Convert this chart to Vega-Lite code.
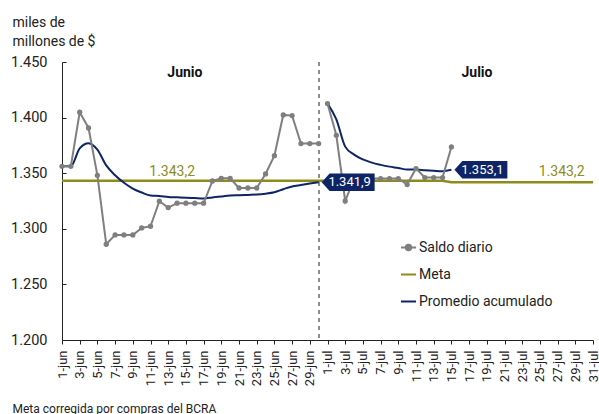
{
  "$schema": "https://vega.github.io/schema/vega-lite/v6.json",
  "width": 531,
  "height": 278,
  "autosize": "none",
  "padding": {"left": 62, "top": 62, "right": 6, "bottom": 74},
  "background": "white",
  "config": {
    "view": {"stroke": null},
    "font": "Roboto",
    "text": {"font": "Roboto"}
  },
  "datasets": {
    "diario": [
      {"d": "1-jun", "m": "jun", "saldo": 1356.2, "prom": 1356.2, "meta": 1343.2},
      {"d": "2-jun", "m": "jun", "saldo": 1356.2, "prom": 1356.2, "meta": 1343.2},
      {"d": "3-jun", "m": "jun", "saldo": 1404.8, "prom": 1372.4, "meta": 1343.2},
      {"d": "4-jun", "m": "jun", "saldo": 1390.7, "prom": 1377.0, "meta": 1343.2},
      {"d": "5-jun", "m": "jun", "saldo": 1348.1, "prom": 1371.2, "meta": 1343.2},
      {"d": "6-jun", "m": "jun", "saldo": 1286.1, "prom": 1357.0, "meta": 1343.2},
      {"d": "7-jun", "m": "jun", "saldo": 1294.5, "prom": 1348.1, "meta": 1343.2},
      {"d": "8-jun", "m": "jun", "saldo": 1294.5, "prom": 1341.4, "meta": 1343.2},
      {"d": "9-jun", "m": "jun", "saldo": 1294.5, "prom": 1336.2, "meta": 1343.2},
      {"d": "10-jun", "m": "jun", "saldo": 1300.8, "prom": 1332.6, "meta": 1343.2},
      {"d": "11-jun", "m": "jun", "saldo": 1302.3, "prom": 1329.9, "meta": 1343.2},
      {"d": "12-jun", "m": "jun", "saldo": 1324.8, "prom": 1329.5, "meta": 1343.2},
      {"d": "13-jun", "m": "jun", "saldo": 1319.1, "prom": 1328.7, "meta": 1343.2},
      {"d": "14-jun", "m": "jun", "saldo": 1323.0, "prom": 1328.3, "meta": 1343.2},
      {"d": "15-jun", "m": "jun", "saldo": 1323.0, "prom": 1327.9, "meta": 1343.2},
      {"d": "16-jun", "m": "jun", "saldo": 1323.0, "prom": 1327.6, "meta": 1343.2},
      {"d": "17-jun", "m": "jun", "saldo": 1323.0, "prom": 1327.3, "meta": 1343.2},
      {"d": "18-jun", "m": "jun", "saldo": 1343.0, "prom": 1328.2, "meta": 1343.2},
      {"d": "19-jun", "m": "jun", "saldo": 1345.4, "prom": 1329.1, "meta": 1343.2},
      {"d": "20-jun", "m": "jun", "saldo": 1345.4, "prom": 1329.9, "meta": 1343.2},
      {"d": "21-jun", "m": "jun", "saldo": 1336.7, "prom": 1330.2, "meta": 1343.2},
      {"d": "22-jun", "m": "jun", "saldo": 1336.7, "prom": 1330.5, "meta": 1343.2},
      {"d": "23-jun", "m": "jun", "saldo": 1336.7, "prom": 1330.8, "meta": 1343.2},
      {"d": "24-jun", "m": "jun", "saldo": 1349.3, "prom": 1331.6, "meta": 1343.2},
      {"d": "25-jun", "m": "jun", "saldo": 1365.8, "prom": 1332.9, "meta": 1343.2},
      {"d": "26-jun", "m": "jun", "saldo": 1402.4, "prom": 1335.6, "meta": 1343.2},
      {"d": "27-jun", "m": "jun", "saldo": 1401.8, "prom": 1338.1, "meta": 1343.2},
      {"d": "28-jun", "m": "jun", "saldo": 1376.6, "prom": 1339.4, "meta": 1343.2},
      {"d": "29-jun", "m": "jun", "saldo": 1376.6, "prom": 1340.7, "meta": 1343.2},
      {"d": "30-jun", "m": "jun", "saldo": 1376.6, "prom": 1341.9, "meta": 1343.2},
      {"d": "1-jul", "m": "jul", "saldo": 1412.6, "prom": 1412.6, "meta": 1343.2},
      {"d": "2-jul", "m": "jul", "saldo": 1384.1, "prom": 1398.4, "meta": 1343.2},
      {"d": "3-jul", "m": "jul", "saldo": 1325.0, "prom": 1373.9, "meta": 1343.2},
      {"d": "4-jul", "m": "jul", "saldo": 1345.0, "prom": 1366.7, "meta": 1343.2},
      {"d": "5-jul", "m": "jul", "saldo": 1345.2, "prom": 1362.4, "meta": 1343.2},
      {"d": "6-jul", "m": "jul", "saldo": 1345.2, "prom": 1359.5, "meta": 1343.2},
      {"d": "7-jul", "m": "jul", "saldo": 1345.2, "prom": 1357.5, "meta": 1343.2},
      {"d": "8-jul", "m": "jul", "saldo": 1345.2, "prom": 1355.9, "meta": 1343.2},
      {"d": "9-jul", "m": "jul", "saldo": 1345.2, "prom": 1354.7, "meta": 1343.2},
      {"d": "10-jul", "m": "jul", "saldo": 1339.8, "prom": 1353.3, "meta": 1343.2},
      {"d": "11-jul", "m": "jul", "saldo": 1354.2, "prom": 1353.3, "meta": 1343.2},
      {"d": "12-jul", "m": "jul", "saldo": 1346.1, "prom": 1352.7, "meta": 1343.2},
      {"d": "13-jul", "m": "jul", "saldo": 1346.1, "prom": 1352.2, "meta": 1343.2},
      {"d": "14-jul", "m": "jul", "saldo": 1346.1, "prom": 1351.8, "meta": 1343.2},
      {"d": "15-jul", "m": "jul", "saldo": 1373.6, "prom": 1353.1, "meta": 1341.8},
      {"d": "16-jul", "m": "jul", "saldo": null, "prom": null, "meta": 1341.8},
      {"d": "17-jul", "m": "jul", "saldo": null, "prom": null, "meta": 1341.8},
      {"d": "18-jul", "m": "jul", "saldo": null, "prom": null, "meta": 1341.8},
      {"d": "19-jul", "m": "jul", "saldo": null, "prom": null, "meta": 1341.8},
      {"d": "20-jul", "m": "jul", "saldo": null, "prom": null, "meta": 1341.8},
      {"d": "21-jul", "m": "jul", "saldo": null, "prom": null, "meta": 1341.8},
      {"d": "22-jul", "m": "jul", "saldo": null, "prom": null, "meta": 1341.8},
      {"d": "23-jul", "m": "jul", "saldo": null, "prom": null, "meta": 1341.8},
      {"d": "24-jul", "m": "jul", "saldo": null, "prom": null, "meta": 1341.8},
      {"d": "25-jul", "m": "jul", "saldo": null, "prom": null, "meta": 1341.8},
      {"d": "26-jul", "m": "jul", "saldo": null, "prom": null, "meta": 1341.8},
      {"d": "27-jul", "m": "jul", "saldo": null, "prom": null, "meta": 1341.8},
      {"d": "28-jul", "m": "jul", "saldo": null, "prom": null, "meta": 1341.8},
      {"d": "29-jul", "m": "jul", "saldo": null, "prom": null, "meta": 1341.8},
      {"d": "30-jul", "m": "jul", "saldo": null, "prom": null, "meta": 1341.8},
      {"d": "31-jul", "m": "jul", "saldo": null, "prom": null, "meta": 1341.8}
    ]
  },
  "data": {"name": "diario"},
  "layer": [
    {
      "mark": {"type": "line", "strokeWidth": 2.5},
      "encoding": {
        "x": {
          "field": "d", "type": "ordinal",
          "scale": {"type": "point", "padding": 0, "domain": ["1-jun","2-jun","3-jun","4-jun","5-jun","6-jun","7-jun","8-jun","9-jun","10-jun","11-jun","12-jun","13-jun","14-jun","15-jun","16-jun","17-jun","18-jun","19-jun","20-jun","21-jun","22-jun","23-jun","24-jun","25-jun","26-jun","27-jun","28-jun","29-jun","30-jun","1-jul","2-jul","3-jul","4-jul","5-jul","6-jul","7-jul","8-jul","9-jul","10-jul","11-jul","12-jul","13-jul","14-jul","15-jul","16-jul","17-jul","18-jul","19-jul","20-jul","21-jul","22-jul","23-jul","24-jul","25-jul","26-jul","27-jul","28-jul","29-jul","30-jul","31-jul"]},
          "axis": {
            "values": ["1-jun","3-jun","5-jun","7-jun","9-jun","11-jun","13-jun","15-jun","17-jun","19-jun","21-jun","23-jun","25-jun","27-jun","29-jun","1-jul","3-jul","5-jul","7-jul","9-jul","11-jul","13-jul","15-jul","17-jul","19-jul","21-jul","23-jul","25-jul","27-jul","29-jul","31-jul"],
            "labelAngle": -90, "labelAlign": "right", "labelBaseline": "middle",
            "labelFontSize": 13, "labelColor": "#222222", "labelPadding": 6,
            "tickSize": 4, "tickColor": "#222222", "domainColor": "#222222",
            "grid": false, "labelOverlap": false,
            "title": "Meta corregida por compras del BCRA",
            "titleX": -50, "titleY": 68, "titleAlign": "left", "titleAnchor": "start",
            "titleBaseline": "middle", "titleFontSize": 12, "titleFontWeight": "normal",
            "titleColor": "#222222"
          }
        },
        "y": {
          "field": "meta", "type": "quantitative",
          "scale": {"domain": [1200, 1450], "nice": false, "zero": false},
          "axis": {
            "values": [1200, 1250, 1300, 1350, 1400, 1450],
            "labelExpr": "replace(format(datum.value, ','), ',', '.')",
            "labelFontSize": 14.5, "labelColor": "#222222", "labelPadding": 19,
            "tickSize": -4, "tickColor": "#222222", "domainColor": "#222222",
            "grid": false,
            "title": ["miles de", "millones de $"],
            "titleAngle": 0, "titleX": -50, "titleY": -36, "titleAlign": "left",
            "titleBaseline": "alphabetic", "titleFontSize": 14, "titleFontWeight": "normal",
            "titleLineHeight": 19, "titleColor": "#222222"
          }
        },
        "color": {
          "datum": "Meta",
          "scale": {"domain": ["Saldo diario", "Meta", "Promedio acumulado"], "range": ["#7f7f7f", "#8c8c1a", "#0d2566"]},
          "legend": {
            "orient": "none", "legendX": 338, "legendY": 177, "title": null,
            "labelFontSize": 14, "labelColor": "#222222", "labelOffset": 2,
            "symbolSize": 225, "symbolStrokeWidth": 2, "symbolType": "stroke", "rowPadding": 11,
            "encode": {
              "symbols": {
                "update": {
                  "shape": {"signal": "datum.value === 'Saldo diario' ? 'M-1,0H1M-0.36,0A0.36,0.36 0 1,0 0.36,0A0.36,0.36 0 1,0 -0.36,0Z' : 'M-1,0H1'"},
                  "fill": {"signal": "datum.value === 'Saldo diario' ? '#7f7f7f' : 'transparent'"},
                  "stroke": {"scale": "color", "field": "value"}
                }
              }
            }
          }
        }
      }
    },
    {
      "mark": {"type": "rule", "strokeDash": [4, 4], "color": "#8c8c8c", "strokeWidth": 1},
      "encoding": {"x": {"datum": "30-jun", "type": "ordinal"}}
    },
    {
      "mark": {"type": "line", "strokeWidth": 2, "interpolate": "monotone"},
      "encoding": {
        "x": {"field": "d", "type": "ordinal"},
        "y": {"field": "prom", "type": "quantitative"},
        "detail": {"field": "m"},
        "color": {"datum": "Promedio acumulado"}
      }
    },
    {
      "mark": {"type": "line", "strokeWidth": 2, "point": {"filled": true, "size": 28}},
      "encoding": {
        "x": {"field": "d", "type": "ordinal"},
        "y": {"field": "saldo", "type": "quantitative"},
        "detail": {"field": "m"},
        "color": {"datum": "Saldo diario"}
      }
    },
    {
      "data": {"values": [
        {"d": "30-jun", "v": 1341.9, "t": "1.341,9"},
        {"d": "15-jul", "v": 1353.1, "t": "1.353,1"}
      ]},
      "layer": [
        {
          "mark": {"type": "point", "filled": true, "fill": "#0d2566", "opacity": 1, "strokeWidth": 0, "size": 3136,
            "shape": "M0.11,0L0.39,-0.31L2,-0.31L2,0.31L0.39,0.31Z"},
          "encoding": {
            "x": {"field": "d", "type": "ordinal"},
            "y": {"field": "v", "type": "quantitative"}
          }
        },
        {
          "mark": {"type": "text", "color": "white", "fontSize": 13, "align": "center", "baseline": "middle", "dx": 31},
          "encoding": {
            "x": {"field": "d", "type": "ordinal"},
            "y": {"field": "v", "type": "quantitative"},
            "text": {"field": "t"}
          }
        }
      ]
    },
    {
      "data": {"values": [
        {"d": "13-jun", "v": 1343.2, "t": "1.343,2"},
        {"d": "27-jul", "v": 1343.2, "t": "1.343,2"}
      ]},
      "mark": {"type": "text", "color": "#8c8c1a", "fontSize": 14, "align": "center", "baseline": "middle", "dx": 4, "dy": -9},
      "encoding": {
        "x": {"field": "d", "type": "ordinal"},
        "y": {"field": "v", "type": "quantitative"},
        "text": {"field": "t"}
      }
    },
    {
      "data": {"values": [
        {"d": "15-jun", "v": 1440, "t": "Junio"},
        {"d": "18-jul", "v": 1440, "t": "Julio"}
      ]},
      "mark": {"type": "text", "color": "#111111", "fontSize": 14, "fontWeight": "bold", "align": "center", "baseline": "middle", "dx": -1},
      "encoding": {
        "x": {"field": "d", "type": "ordinal"},
        "y": {"field": "v", "type": "quantitative"},
        "text": {"field": "t"}
      }
    }
  ]
}
